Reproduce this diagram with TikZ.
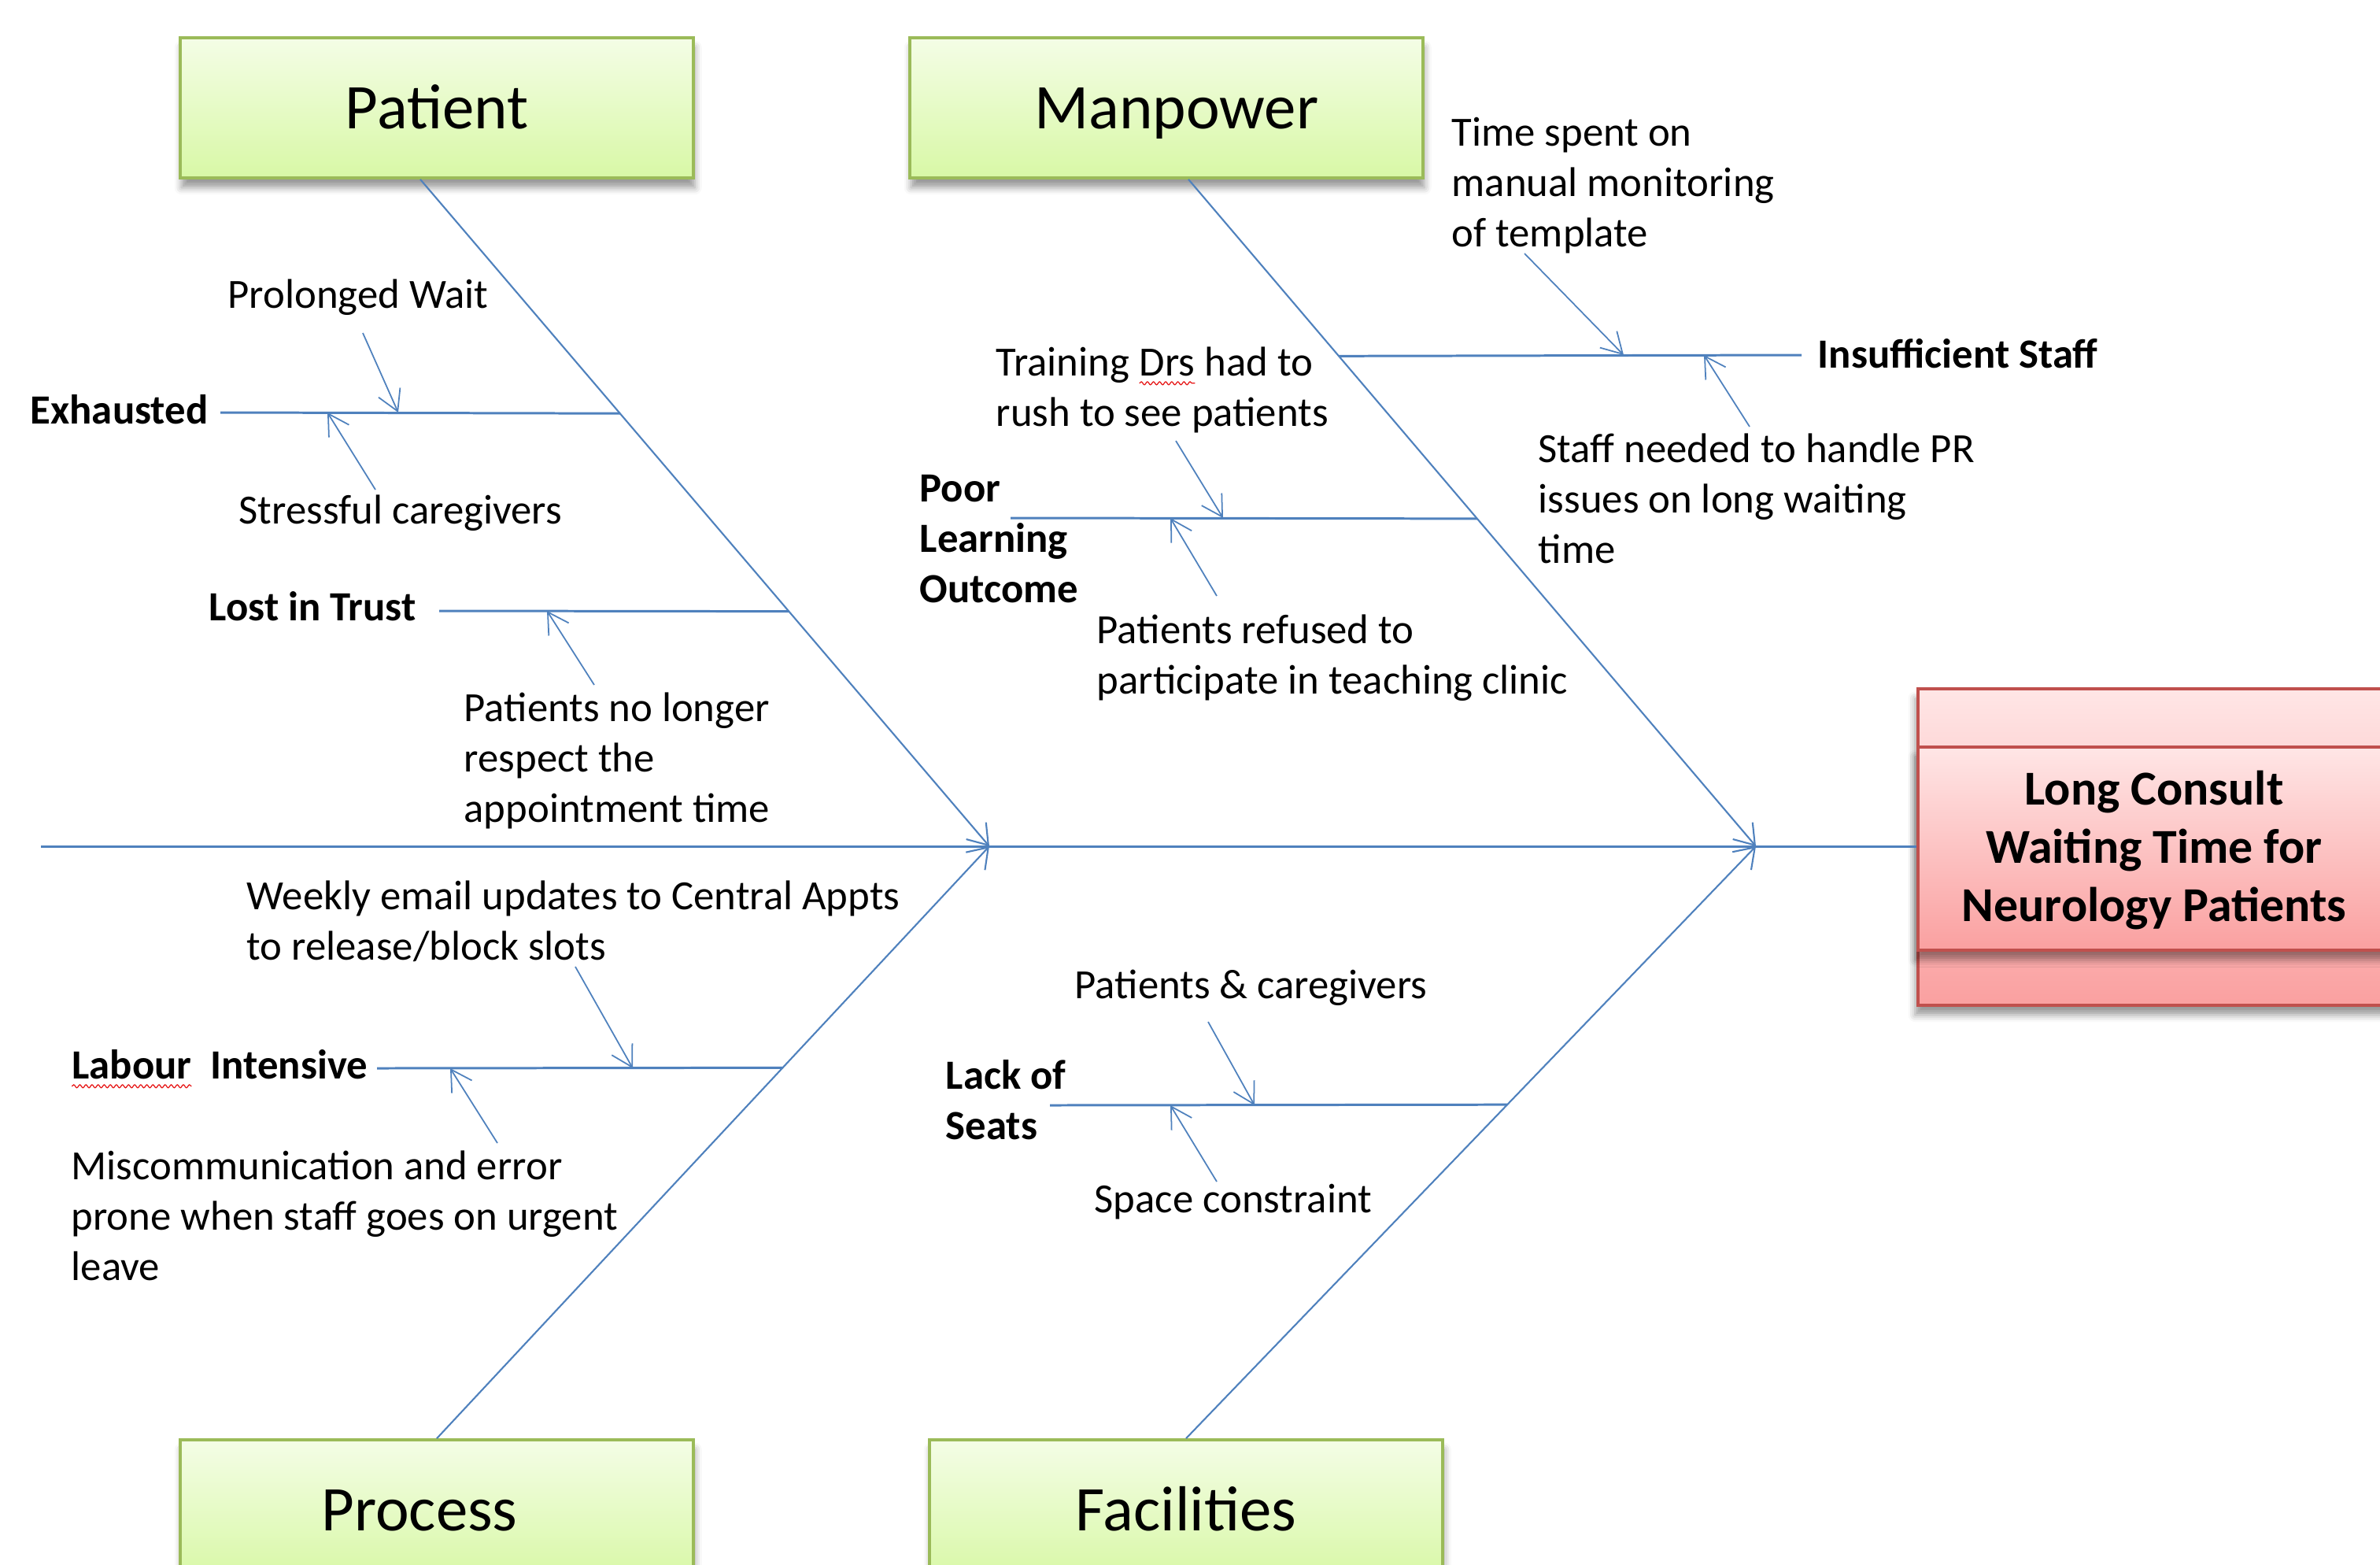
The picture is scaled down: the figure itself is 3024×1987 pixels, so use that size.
\documentclass[tikz,border=0pt]{standalone}
\usepackage{fontspec}
\setmainfont{Carlito}
\usetikzlibrary{arrows.meta,calc,shadows.blur,decorations.pathmorphing}

\definecolor{bone}{RGB}{79,129,189}
\definecolor{catline}{RGB}{155,187,89}
\definecolor{cattop}{RGB}{244,253,230}
\definecolor{catbot}{RGB}{216,248,166}
\definecolor{effline}{RGB}{192,80,77}
\definecolor{efftop}{RGB}{255,230,230}
\definecolor{effbot}{RGB}{250,160,160}
\definecolor{spellred}{RGB}{230,20,20}

% several lines, baseline on the first one
\newcommand\ml[1]{\begin{tabular}[t]{@{}l@{}}#1\end{tabular}}
% word with a red wavy underline
\newcommand\spellwave[1]{\tikz[baseline=(sw.base)]{\node[inner sep=0pt,outer sep=0pt](sw){#1};%
  \draw[spellred,line width=0.35pt,decorate,decoration={snake,amplitude=0.55pt,segment length=2.2pt}]
    ([yshift=-2.8pt]sw.base west)--([yshift=-2.8pt]sw.base east);}}

\begin{document}
\begin{tikzpicture}[x=0.01cm,y=-0.01cm,
  catbox/.style={draw=catline,line width=1pt,top color=cattop,bottom color=catbot,
    minimum width=6.52cm,minimum height=1.78cm,inner sep=0pt,
    font=\fontsize{23}{27}\selectfont,text height=15.2pt,text depth=0pt,
    blur shadow={shadow xshift=0.5pt,shadow yshift=-3.5pt,shadow blur radius=2.5pt,shadow opacity=40}},
  effbox/.style={draw=effline,line width=1pt,top color=efftop,bottom color=effbot,
    minimum width=6.0cm,inner sep=0pt,
    blur shadow={shadow xshift=-1pt,shadow yshift=-3.5pt,shadow blur radius=2.5pt,shadow opacity=40}},
  efftext/.style={align=center,font=\bfseries\fontsize{17.6}{21}\selectfont},
  spine/.style={draw=bone,line width=0.85pt},
  mainbone/.style={draw=bone,line width=0.6pt,-{Straight Barb[length=2.4mm,width=3.3mm]}},
  rib/.style={draw=bone,line width=0.85pt},
  cause/.style={draw=bone,line width=0.5pt,-{Straight Barb[length=2.6mm,width=3mm]}},
  txt/.style={inner sep=0pt,anchor=base west,font=\fontsize{15}{18.2}\selectfont},
  lbl/.style={inner sep=0pt,anchor=base west,font=\bfseries\fontsize{15}{18.2}\selectfont}]

\useasboundingbox (0,0) rectangle (3024,1987);
\clip (0,0) rectangle (3024,1987);

% ---- category boxes
\node[catbox] (patient) at (555,137) {Patient};
\node[catbox] (manpower) at (1482,137) {\hspace*{0.26cm}Manpower};
\node[catbox] (process) at (555,1918) {\hspace*{-0.44cm}Process};
\node[catbox] (facilities) at (1507,1918) {Facilities};

% ---- effect box (outer band and raised middle panel)
\node[effbox,minimum height=4.02cm] (effback) at (2737,1076) {};
\node[effbox,minimum height=2.58cm] (effect) at (2737,1078) {};
\node[efftext] (efftxt) at (2737,1080) {Long Consult\\Waiting Time for\\Neurology Patients};

% ---- spine and main bones
\coordinate (spineL) at (52,1075);
\coordinate (pj) at (1257,1075);
\coordinate (mj) at (2231,1075);
\draw[spine] (spineL) -- (effback.west |- spineL);

\coordinate (patfoot) at ([xshift=-0.21cm]patient.south);
\coordinate (manfoot) at ([xshift=0.28cm]manpower.south);
\coordinate (profoot) at (process.north);
\coordinate (facfoot) at (facilities.north);

\draw[mainbone] (patfoot) -- (pj);
\draw[mainbone] (profoot) -- (pj);
\draw[mainbone] (manfoot) -- (mj);
\draw[mainbone] (facfoot) -- (mj);

% ---- junctions of the ribs on the bones
\coordinate (exJ) at ($(patfoot)!0.3510!(pj)$);
\coordinate (ltJ) at ($(patfoot)!0.6478!(pj)$);
\coordinate (isJ) at ($(manfoot)!0.2650!(mj)$);
\coordinate (plJ) at ($(manfoot)!0.5088!(mj)$);
\coordinate (liJ) at ($(profoot)!0.6260!(pj)$);
\coordinate (lsJ) at ($(facfoot)!0.5637!(mj)$);

% ---- rib ends
\coordinate (exL) at (280,524);
\coordinate (ltL) at (558,776);
\coordinate (isR) at (2289,451);
\coordinate (plL) at (1284,658);
\coordinate (liL) at (479,1357);
\coordinate (lsL) at (1334,1404);

\draw[rib] (exL) -- (exJ);
\draw[rib] (ltL) -- (ltJ);
\draw[rib] (isJ) -- (isR);
\draw[rib] (plL) -- (plJ);
\draw[rib] (liL) -- (liJ);
\draw[rib] (lsL) -- (lsJ);

% ---- rib labels
\node[lbl] (exhausted) at (38,538) {Exhausted};
\node[lbl] (losttrust) at (265,788) {Lost in Trust};
\node[lbl] (insuff) at (2309,467) {Insufficient Staff};
\node[lbl] (poorlearn) at (1168,637) {\ml{Poor\\Learning\\Outcome}};
\node[lbl] (labour) at (90,1370) {\spellwave{Labour}\ \ Intensive};
\node[lbl] (lackseats) at (1201,1383) {\ml{Lack of\\Seats}};

% ---- cause texts
\node[txt] (prolonged) at (289,391) {Prolonged Wait};
\node[txt] (stressful) at (303,665) {Stressful caregivers};
\node[txt] (nolonger) at (589,916) {\ml{Patients no longer\\respect the\\appointment time}};
\node[txt] (timespent) at (1844,185) {\ml{Time spent on\\manual monitoring\\of template}};
\node[txt] (staffpr) at (1954,587) {\ml{Staff needed to handle PR\\issues on long waiting\\time}};
\node[txt] (training) at (1265,477) {\ml{Training \spellwave{Drs} had to\\rush to see patients}};
\node[txt] (refused) at (1393,817) {\ml{Patients refused to\\participate in teaching clinic}};
\node[txt] (weekly) at (313,1155) {\ml{Weekly email updates to Central Appts\\to release/block slots}};
\node[txt] (miscomm) at (90,1498) {\ml{Miscommunication and error\\prone when staff goes on urgent\\leave}};
\node[txt] (carers) at (1365,1268) {Patients \& caregivers};
\node[txt] (space) at (1390,1540) {Space constraint};

% ---- cause arrows
\coordinate (pwS) at (461,423);   \coordinate (pwE) at (506,524);
\coordinate (scS) at (477,622);   \coordinate (scE) at (416,524);
\coordinate (nlS) at (755,870);   \coordinate (nlE) at (695,776);
\coordinate (tsS) at (1937,322);  \coordinate (tsE) at (2063,451);
\coordinate (snS) at (2223,542);  \coordinate (snE) at (2165,451);
\coordinate (tdS) at (1494,560);  \coordinate (tdE) at (1554,658);
\coordinate (prS) at (1546,757);  \coordinate (prE) at (1487,658);
\coordinate (weS) at (731,1228);  \coordinate (weE) at (804,1357);
\coordinate (mcS) at (632,1452);  \coordinate (mcE) at (572,1357);
\coordinate (pcS) at (1535,1298); \coordinate (pcE) at (1594,1404);
\coordinate (spS) at (1546,1501); \coordinate (spE) at (1487,1404);

\draw[cause] (pwS) -- (pwE);
\draw[cause] (scS) -- (scE);
\draw[cause] (nlS) -- (nlE);
\draw[cause] (tsS) -- (tsE);
\draw[cause] (snS) -- (snE);
\draw[cause] (tdS) -- (tdE);
\draw[cause] (prS) -- (prE);
\draw[cause] (weS) -- (weE);
\draw[cause] (mcS) -- (mcE);
\draw[cause] (pcS) -- (pcE);
\draw[cause] (spS) -- (spE);
\end{tikzpicture}
\end{document}
